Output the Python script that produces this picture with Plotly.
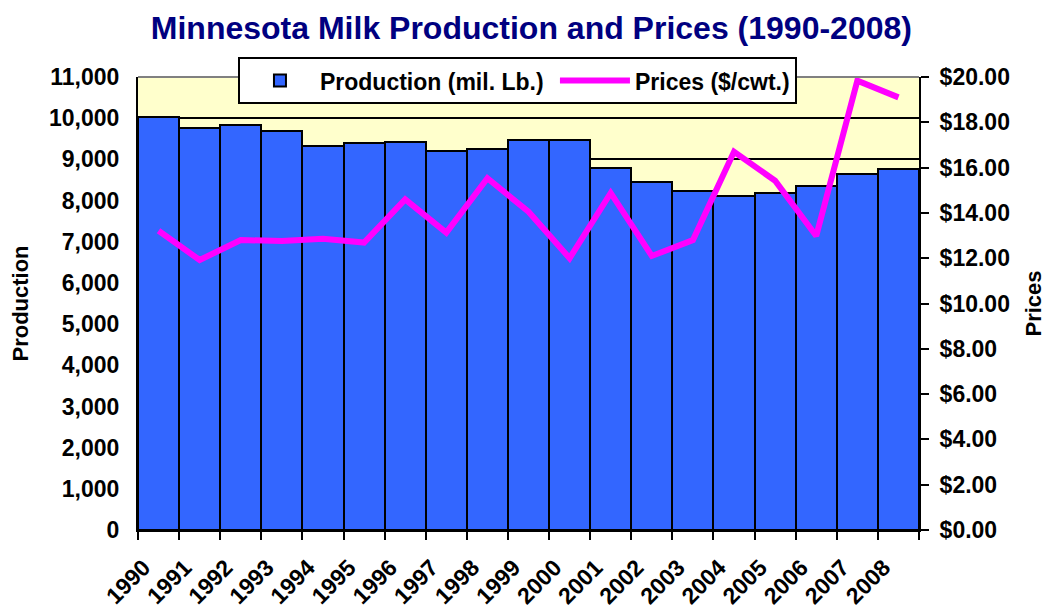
import plotly.graph_objects as go

years = list(range(1990, 2009))
year_labels = [str(y) for y in years]
production = [10020, 9760, 9840, 9680, 9330, 9400, 9430, 9210, 9260, 9470,
              9480, 8790, 8440, 8240, 8100, 8180, 8350, 8640, 8770]
prices = [13.21, 11.92, 12.80, 12.76, 12.86, 12.69, 14.60, 13.13, 15.53, 14.05,
          12.00, 14.88, 12.10, 12.80, 16.70, 15.42, 12.98, 19.84, 19.10]

FONT = "Arial, Liberation Sans, sans-serif"
FS = 23
LABEL_SHIFT = -0.36  # shift of rotated year labels, in category units

fig = go.Figure()
fig.add_trace(go.Bar(
    x=years, y=production, name="Production (mil. Lb.)\u00a0", width=1.0,
    marker=dict(color="#3366FF", line=dict(color="black", width=2)),
    yaxis="y",
))
fig.add_trace(go.Scatter(
    x=years, y=prices, name="Prices ($/cwt.)", mode="lines",
    line=dict(color="#FF00FF", width=6), yaxis="y2",
))

fig.update_layout(
    width=1046, height=607,
    margin=dict(l=138, r=127, t=77, b=77, autoexpand=False),
    paper_bgcolor="white", plot_bgcolor="#FFFFCC",
    bargap=0,
    font=dict(family=FONT, size=FS, color="black", weight="bold"),
    title=dict(text="Minnesota Milk Production and Prices (1990-2008)",
               x=0.508, xanchor="center", y=0.955, yanchor="middle",
               font=dict(family=FONT, size=32, color="#000080", weight="bold")),
    xaxis=dict(range=[years[0] - 0.5, years[-1] + 0.5],
               tickvals=[y + LABEL_SHIFT for y in years], ticktext=year_labels,
               ticks="", showline=True, linecolor="black",
               linewidth=2, tickangle=-45, showgrid=False, zeroline=False,
               automargin=False, tickfont=dict(size=FS), ticklabelstandoff=13,
               minor=dict(tickvals=[y - 0.5 for y in years] + [years[-1] + 0.5],
                          ticks="outside", ticklen=8, tickwidth=2,
                          tickcolor="black", showgrid=False)),
    yaxis=dict(range=[0, 11000], dtick=1000, tickformat=",", ticks="",
               showline=True, linecolor="black", linewidth=2, automargin=False,
               showgrid=True, gridcolor="black", gridwidth=1.5,
               zeroline=False, tickfont=dict(size=FS), ticklabelstandoff=12,
               title=dict(text="Production", font=dict(size=22), standoff=14)),
    yaxis2=dict(range=[0, 20], dtick=2, tickprefix="$", tickformat=".2f",
                overlaying="y", side="right", ticks="outside", ticklen=8,
                tickwidth=2, tickcolor="black", showline=True, linecolor="black",
                linewidth=2, showgrid=False, zeroline=False, automargin=False,
                tickfont=dict(size=FS), ticklabelstandoff=6,
                title=dict(text="Prices", font=dict(size=22), standoff=20)),
    legend=dict(orientation="h", x=0.128, xanchor="left", y=1.044, yanchor="top",
                bgcolor="white", bordercolor="black", borderwidth=2,
                font=dict(size=23), itemwidth=70, traceorder="normal"),
    showlegend=True,
)

fig.add_shape(type="line", xref="paper", yref="paper", x0=0, x1=1, y0=1, y1=1,
              line=dict(color="#808080", width=2), layer="above")

fig.write_html("out.html", config={"displayModeBar": False},
               post_script="document.body.style.margin='0';document.body.style.padding='0';")
